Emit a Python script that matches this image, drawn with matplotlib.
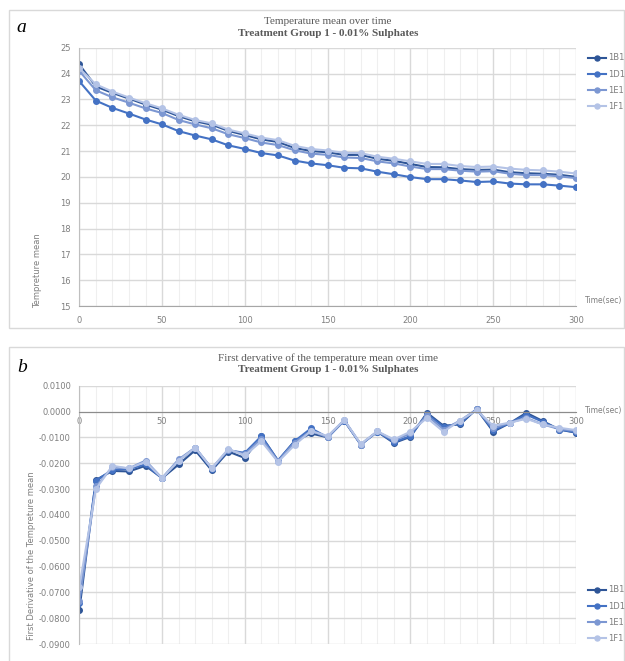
import numpy as np
import matplotlib.pyplot as plt
from matplotlib.patches import Rectangle
from matplotlib.ticker import MultipleLocator, FuncFormatter

# ---- data
time = list(range(0, 301, 10))
labels = ['1B1', '1D1', '1E1', '1F1']
colors = ['#2E5597', '#4472C4', '#7C97D2', '#B4C3E6']

temp_1B1 = [24.35, 23.50, 23.25, 23.03, 22.80, 22.60, 22.35, 22.15, 22.02, 21.78, 21.62,
            21.45, 21.35, 21.12, 21.00, 20.95, 20.85, 20.85, 20.70, 20.62, 20.50,
            20.38, 20.37, 20.30, 20.27, 20.28, 20.18, 20.14, 20.12, 20.08, 20.00]
temp_1D1 = [23.70, 22.95, 22.67, 22.45, 22.22, 22.03, 21.77, 21.60, 21.45, 21.22, 21.08,
            20.92, 20.83, 20.63, 20.52, 20.45, 20.35, 20.33, 20.20, 20.10, 19.99,
            19.91, 19.91, 19.86, 19.80, 19.82, 19.74, 19.71, 19.71, 19.66, 19.60]
temp_1E1 = [24.10, 23.35, 23.08, 22.87, 22.65, 22.47, 22.20, 22.03, 21.88, 21.65, 21.50,
            21.33, 21.23, 21.03, 20.90, 20.85, 20.75, 20.73, 20.60, 20.52, 20.40,
            20.30, 20.30, 20.24, 20.20, 20.22, 20.12, 20.07, 20.07, 20.02, 19.95]
temp_1F1 = [24.20, 23.58, 23.30, 23.07, 22.85, 22.65, 22.40, 22.20, 22.07, 21.83, 21.68,
            21.52, 21.42, 21.20, 21.08, 21.02, 20.93, 20.92, 20.78, 20.70, 20.60,
            20.50, 20.50, 20.42, 20.38, 20.40, 20.32, 20.27, 20.25, 20.20, 20.13]

deriv_1B1 = [-0.0770, -0.0265, -0.0230, -0.0232, -0.0210, -0.0258, -0.0205, -0.0150, -0.0228,
             -0.0155, -0.0180, -0.0095, -0.0190, -0.0115, -0.0085, -0.0100, -0.0035, -0.0128,
             -0.0078, -0.0122, -0.0098, -0.0005, -0.0055, -0.0050, 0.0010, -0.0078, -0.0045,
             -0.0005, -0.0037, -0.0070, -0.0082]
deriv_1D1 = [-0.0740, -0.0268, -0.0225, -0.0222, -0.0205, -0.0258, -0.0190, -0.0140, -0.0222,
             -0.0150, -0.0160, -0.0095, -0.0190, -0.0115, -0.0065, -0.0100, -0.0035, -0.0128,
             -0.0078, -0.0118, -0.0095, -0.0010, -0.0060, -0.0045, 0.0010, -0.0072, -0.0045,
             -0.0012, -0.0040, -0.0070, -0.0080]
deriv_1E1 = [-0.0735, -0.0290, -0.0215, -0.0220, -0.0190, -0.0258, -0.0185, -0.0140, -0.0220,
             -0.0148, -0.0165, -0.0105, -0.0192, -0.0120, -0.0075, -0.0100, -0.0033, -0.0128,
             -0.0077, -0.0112, -0.0085, -0.0015, -0.0070, -0.0035, 0.0008, -0.0065, -0.0043,
             -0.0025, -0.0050, -0.0068, -0.0075]
deriv_1F1 = [-0.0680, -0.0300, -0.0210, -0.0220, -0.0195, -0.0258, -0.0190, -0.0140, -0.0220,
             -0.0145, -0.0170, -0.0115, -0.0195, -0.0130, -0.0075, -0.0095, -0.0033, -0.0125,
             -0.0077, -0.0108, -0.0078, -0.0025, -0.0078, -0.0035, 0.0005, -0.0055, -0.0043,
             -0.0028, -0.0050, -0.0063, -0.0072]

temps = [temp_1B1, temp_1D1, temp_1E1, temp_1F1]
derivs = [deriv_1B1, deriv_1D1, deriv_1E1, deriv_1F1]

W, H = 625, 661
txt_gray = '#595959'
tick_gray = '#7f7f7f'
major_grid = '#d9d9d9'
minor_grid = '#efefef'
serif = 'Liberation Serif'


def fx(px):
    return px / W


def fy(py):
    return 1 - py / H


def style_axes(ax):
    ax.patch.set_alpha(0)
    ax.xaxis.set_major_locator(MultipleLocator(50))
    ax.xaxis.set_minor_locator(MultipleLocator(10))
    ax.grid(which='major', color=major_grid, linewidth=1.0)
    ax.grid(which='minor', axis='x', color=minor_grid, linewidth=0.8)
    ax.set_axisbelow(True)
    ax.tick_params(which='both', length=0, labelsize=6, labelcolor=tick_gray, pad=6)
    for s in ['top', 'right']:
        ax.spines[s].set_visible(False)
    ax.spines['left'].set_color('#bfbfbf')
    ax.spines['bottom'].set_color('#a6a6a6')


fig = plt.figure(figsize=(W / 100, H / 100), dpi=100)

# panel cards (behind the axes)
fig.patches.append(Rectangle((fx(9), fy(328)), fx(615), 318 / H, transform=fig.transFigure,
                             facecolor='white', edgecolor='#d9d9d9', linewidth=1, zorder=-5))
fig.patches.append(Rectangle((fx(9), fy(665)), fx(615), 318 / H, transform=fig.transFigure,
                             facecolor='white', edgecolor='#d9d9d9', linewidth=1, zorder=-5))

# ---- panel a
ax1 = fig.add_axes([fx(79.3), fy(306), fx(576 - 79.3), (306 - 47.7) / H])
for t, lab, c in zip(temps, labels, colors):
    ax1.plot(time, t, '-o', color=c, lw=1.5, ms=4, label=lab)
ax1.set_xlim(0, 300)
ax1.set_ylim(15, 25)
ax1.yaxis.set_major_locator(MultipleLocator(1))
style_axes(ax1)
ax1.tick_params(axis='x', pad=7)

fig.text(fx(328), fy(22), 'Temperature mean over time', ha='center', va='center',
         fontsize=8, family=serif, color=txt_gray)
fig.text(fx(328), fy(34), 'Treatment Group 1 - 0.01% Sulphates', ha='center', va='center',
         fontsize=8, family=serif, weight='bold', color=txt_gray)
fig.text(fx(16), fy(28), 'a', fontsize=14, family=serif, style='italic', va='center')
fig.text(fx(38), fy(271), 'Tempreture mean', rotation=90, ha='center', va='center',
         fontsize=6, color=tick_gray)
fig.text(fx(585), fy(300), 'Time(sec)', ha='left', va='center', fontsize=5.5, color=tick_gray)
fig.legend(*ax1.get_legend_handles_labels(), loc='upper left',
           bbox_to_anchor=(fx(580), fy(46)), frameon=False, fontsize=6,
           labelcolor=tick_gray, handlelength=2.2, handletextpad=0.3,
           labelspacing=0.85, markerscale=0.9)

# ---- panel b
ax2 = fig.add_axes([fx(79.3), fy(644), fx(576 - 79.3), (644 - 385.7) / H])
for d, lab, c in zip(derivs, labels, colors):
    ax2.plot(time, d, '-o', color=c, lw=1.5, ms=4, label=lab)
ax2.set_xlim(0, 300)
ax2.set_ylim(-0.09, 0.01)
ax2.yaxis.set_major_locator(MultipleLocator(0.01))
ax2.yaxis.set_major_formatter(FuncFormatter(lambda v, p: f'{v:.4f}'))
style_axes(ax2)
ax2.spines['bottom'].set_position(('data', 0))
ax2.spines['bottom'].set_color('#8c8c8c')
ax2.tick_params(axis='x', pad=4)

fig.text(fx(328), fy(358), 'First dervative of the temperature mean over time', ha='center',
         va='center', fontsize=8, family=serif, color=txt_gray)
fig.text(fx(328), fy(370), 'Treatment Group 1 - 0.01% Sulphates', ha='center', va='center',
         fontsize=8, family=serif, weight='bold', color=txt_gray)
fig.text(fx(17), fy(367), 'b', fontsize=14, family=serif, style='italic', va='center')
fig.text(fx(32), fy(556), 'First Derivative of the Tempreture mean', rotation=90,
         ha='center', va='center', fontsize=6, color=tick_gray)
fig.text(fx(585), fy(410), 'Time(sec)', ha='left', va='center', fontsize=5.5, color=tick_gray)
fig.legend(*ax2.get_legend_handles_labels(), loc='upper left',
           bbox_to_anchor=(fx(580), fy(578)), frameon=False, fontsize=6,
           labelcolor=tick_gray, handlelength=2.2, handletextpad=0.3,
           labelspacing=0.85, markerscale=0.9)

fig.savefig('out.png', dpi=100)
